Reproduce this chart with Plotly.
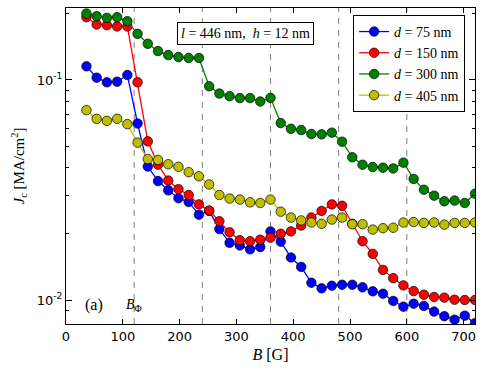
"""Critical current density vs applied field for several pinning-site spacings."""

import numpy as np
import plotly.graph_objects as go

# Applied field B [G]
field = [36 + 18 * i for i in range(39)]

jc_75 = [0.1153, 0.1024, 0.0976, 0.0982, 0.1053, 0.0634, 0.0404, 0.0347, 0.0315, 0.0290,
         0.0279, 0.0244, 0.0254, 0.0210, 0.0182, 0.0177, 0.0170, 0.0174, 0.0205, 0.0184,
         0.0156, 0.01414, 0.01198, 0.01130, 0.01161, 0.01173, 0.01173, 0.01142, 0.01095,
         0.01068, 0.00990, 0.00933, 0.00962, 0.00940, 0.00886, 0.00844, 0.00814, 0.00849,
         0.00785]
jc_150 = [0.1928, 0.1787, 0.1774, 0.1750, 0.1750, 0.0976, 0.0526, 0.0412, 0.0349, 0.0319,
          0.0300, 0.0272, 0.0255, 0.0228, 0.0203, 0.0187, 0.0185, 0.0188, 0.0192, 0.0200,
          0.0205, 0.0218, 0.0237, 0.0254, 0.0272, 0.0268, 0.0222, 0.0185, 0.0162, 0.0137,
          0.01257, 0.01165, 0.01098, 0.01057, 0.01032, 0.01025, 0.01003, 0.0100, 0.0100]
jc_300 = [0.2003, 0.1948, 0.1914, 0.1928, 0.1849, 0.1620, 0.1460, 0.1353, 0.1297, 0.1271,
          0.1258, 0.1258, 0.0936, 0.0867, 0.0844, 0.0827, 0.0827, 0.0798, 0.0829, 0.0637,
          0.0600, 0.0592, 0.0568, 0.0566, 0.0576, 0.0524, 0.0445, 0.0412, 0.0402, 0.0399,
          0.0396, 0.0421, 0.0355, 0.0317, 0.0298, 0.0281, 0.0283, 0.0276, 0.0304]
jc_405 = [0.0729, 0.0666, 0.0652, 0.0666, 0.0630, 0.0519, 0.0437, 0.0433, 0.0414, 0.0403,
          0.0381, 0.0365, 0.0335, 0.0300, 0.0289, 0.0286, 0.0278, 0.0276, 0.0286, 0.0252,
          0.0237, 0.0230, 0.0225, 0.0222, 0.0232, 0.0237, 0.0221, 0.0221, 0.0209, 0.0212,
          0.0213, 0.0225, 0.0226, 0.0224, 0.0225, 0.0220, 0.0224, 0.0224, 0.0225]

series = [
    ("75", jc_75, "#0000ff"),
    ("150", jc_150, "#ff0000"),
    ("300", jc_300, "#008000"),
    ("405", jc_405, "#bfbf00"),
]

# Matching fields (multiples of B_phi)
matching_fields = [120, 240, 360, 480, 600]

y_ticks = [0.01, 0.1]
y_tick_text = ["10<sup>-2</sup>", "10<sup>-1</sup>"]
y_minor = [0.009] + [k * 0.01 for k in range(2, 10)] + [0.2]

SERIF = "Liberation Serif, DejaVu Serif, serif"
SANS = "DejaVu Sans, sans-serif"

fig = go.Figure()

for d, jc, color in series:
    fig.add_trace(go.Scatter(
        x=field,
        y=jc,
        mode="lines+markers",
        line={"color": color, "width": 1.3},
        marker={"color": color, "size": 9.5, "line": {"color": "black", "width": 0.7}},
        name=f"<i>d</i> = {d} nm",
    ))

for b in matching_fields:
    fig.add_shape(
        type="line", xref="x", yref="paper",
        x0=b, x1=b, y0=0, y1=1,
        line={"color": "#7f7f7f", "width": 1, "dash": "6px,6px"},
        layer="below",
    )

fig.add_annotation(
    x=0.44, y=0.955, xref="paper", yref="paper",
    text="<i>l</i> = 446 nm,  <i>h</i> = 12 nm",
    showarrow=False, font={"family": SERIF, "size": 14, "color": "black"},
    bgcolor="white", bordercolor="black", borderwidth=1, borderpad=3,
)
fig.add_annotation(
    x=0.042, y=0.025, xref="paper", yref="paper",
    text="(a)", showarrow=False,
    font={"family": SERIF, "size": 16, "color": "black"},
)
fig.add_annotation(
    x=120, y=0.025, xref="x", yref="paper",
    text="<i>B</i><sub>Φ</sub>", showarrow=False,
    font={"family": SERIF, "size": 14, "color": "black"},
)

fig.update_layout(
    width=485,
    height=374,
    margin={"l": 66, "r": 10, "t": 8, "b": 50, "autoexpand": False},
    paper_bgcolor="white",
    plot_bgcolor="white",
    showlegend=True,
    legend={
        "x": 0.702, "y": 0.978, "xanchor": "left", "yanchor": "top",
        "bgcolor": "white", "bordercolor": "black", "borderwidth": 1,
        "font": {"family": SERIF, "size": 14, "color": "black"},
        "itemwidth": 30, "tracegroupgap": 0,
    },
)

fig.update_xaxes(
    range=[0, 720],
    tickvals=list(range(0, 701, 100)),
    ticks="inside", ticklen=5, tickcolor="black",
    showline=True, linecolor="black", linewidth=1.2, mirror="ticks",
    showgrid=False, zeroline=False, automargin=False,
    tickfont={"family": SANS, "size": 13, "color": "black"},
    title={"text": "<i>B</i> [G]", "font": {"family": SERIF, "size": 16, "color": "black"},
           "standoff": 6},
)
fig.update_yaxes(
    type="log",
    range=[np.log10(0.00778), np.log10(0.2123)],
    tickvals=y_ticks, ticktext=y_tick_text,
    ticks="inside", ticklen=6, tickcolor="black",
    minor={"tickvals": y_minor, "ticks": "inside", "ticklen": 3, "tickcolor": "black"},
    showline=True, linecolor="black", linewidth=1.2, mirror="ticks",
    showgrid=False, zeroline=False, automargin=False,
    tickfont={"family": SANS, "size": 13, "color": "black"},
    title={"text": "<i>J</i><sub>c</sub> [MA/cm<sup>2</sup>]",
           "font": {"family": SERIF, "size": 15, "color": "black"}, "standoff": 8},
)

# the page's default body margin would shift the figure by 8px
fig.write_html(
    "out.html",
    config={"displayModeBar": False},
    post_script="document.body.style.margin='0px';",
)
